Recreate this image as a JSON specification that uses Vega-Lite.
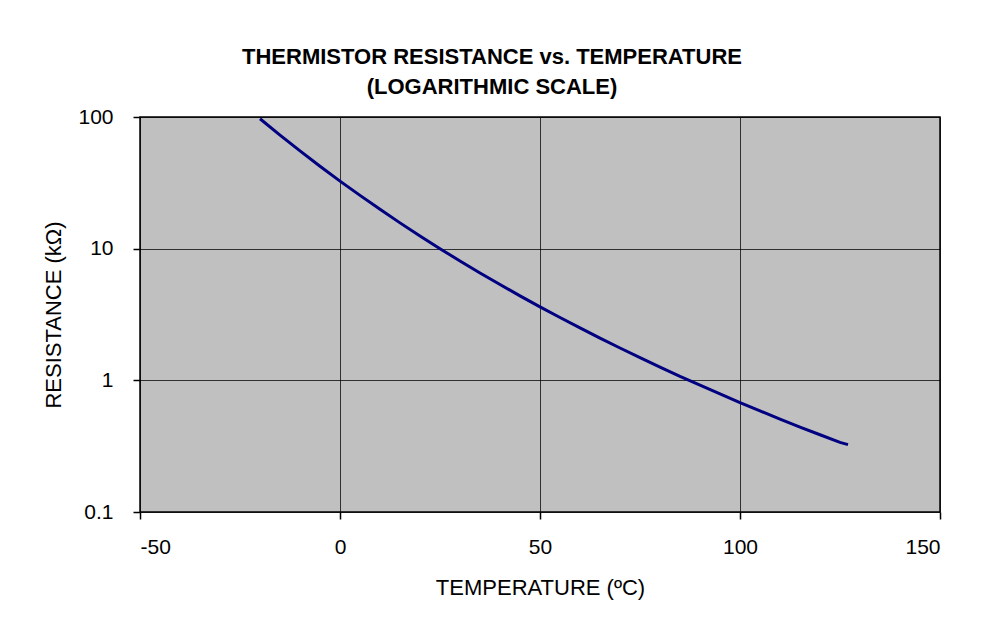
{
  "$schema": "https://vega.github.io/schema/vega-lite/v6.json",
  "width": 800,
  "height": 395,
  "autosize": "none",
  "padding": {"left": 140, "top": 117, "right": 46, "bottom": 112},
  "background": "white",
  "title": {
    "text": ["THERMISTOR RESISTANCE vs. TEMPERATURE", "(LOGARITHMIC SCALE)"],
    "anchor": "middle",
    "frame": "group",
    "dx": -48,
    "offset": 7,
    "font": "Liberation Sans",
    "fontSize": 22,
    "fontWeight": "bold",
    "color": "black",
    "lineHeight": 30
  },
  "data": {
    "values": [
      {"t": -20, "r": 97.0},
      {"t": -15, "r": 72.9},
      {"t": -10, "r": 55.3},
      {"t": -5, "r": 42.3},
      {"t": 0, "r": 32.6},
      {"t": 5, "r": 25.4},
      {"t": 10, "r": 19.9},
      {"t": 15, "r": 15.7},
      {"t": 20, "r": 12.5},
      {"t": 25, "r": 10.0},
      {"t": 30, "r": 8.06},
      {"t": 35, "r": 6.54},
      {"t": 40, "r": 5.34},
      {"t": 45, "r": 4.38},
      {"t": 50, "r": 3.61},
      {"t": 55, "r": 3.0},
      {"t": 60, "r": 2.5},
      {"t": 65, "r": 2.09},
      {"t": 70, "r": 1.76},
      {"t": 75, "r": 1.49},
      {"t": 80, "r": 1.26},
      {"t": 85, "r": 1.07},
      {"t": 90, "r": 0.918},
      {"t": 95, "r": 0.788},
      {"t": 100, "r": 0.678},
      {"t": 105, "r": 0.586},
      {"t": 110, "r": 0.508},
      {"t": 115, "r": 0.442},
      {"t": 120, "r": 0.386},
      {"t": 125, "r": 0.338},
      {"t": 127, "r": 0.325}
    ]
  },
  "mark": {"type": "line", "color": "#000080", "strokeWidth": 3, "clip": true},
  "encoding": {
    "x": {
      "field": "t",
      "type": "quantitative",
      "scale": {"domain": [-50, 150], "nice": false, "zero": false},
      "axis": {
        "title": "TEMPERATURE (ºC)",
        "values": [-50, 0, 50, 100, 150],
        "labelExpr": "'' + datum.value",
        "tickSize": 7,
        "labelPadding": 17,
        "titlePadding": 20,
        "titleFontSize": 22
      }
    },
    "y": {
      "field": "r",
      "type": "quantitative",
      "scale": {"type": "log", "domain": [0.1, 100], "nice": false},
      "axis": {
        "title": "RESISTANCE (kΩ)",
        "values": [0.1, 1, 10, 100],
        "format": "~g",
        "tickSize": 7,
        "labelPadding": 20,
        "titlePadding": 12,
        "titleFontSize": 22
      }
    }
  },
  "config": {
    "view": {"fill": "#c0c0c0", "stroke": "black", "strokeWidth": 1.5},
    "axis": {
      "domain": false,
      "grid": true,
      "gridColor": "black",
      "gridOpacity": 0.75,
      "gridWidth": 1,
      "tickColor": "black",
      "tickWidth": 1.5,
      "labelFont": "Liberation Sans",
      "labelFontSize": 21,
      "labelColor": "black",
      "titleFont": "Liberation Sans",
      "titleFontWeight": "normal",
      "titleColor": "black"
    }
  }
}
